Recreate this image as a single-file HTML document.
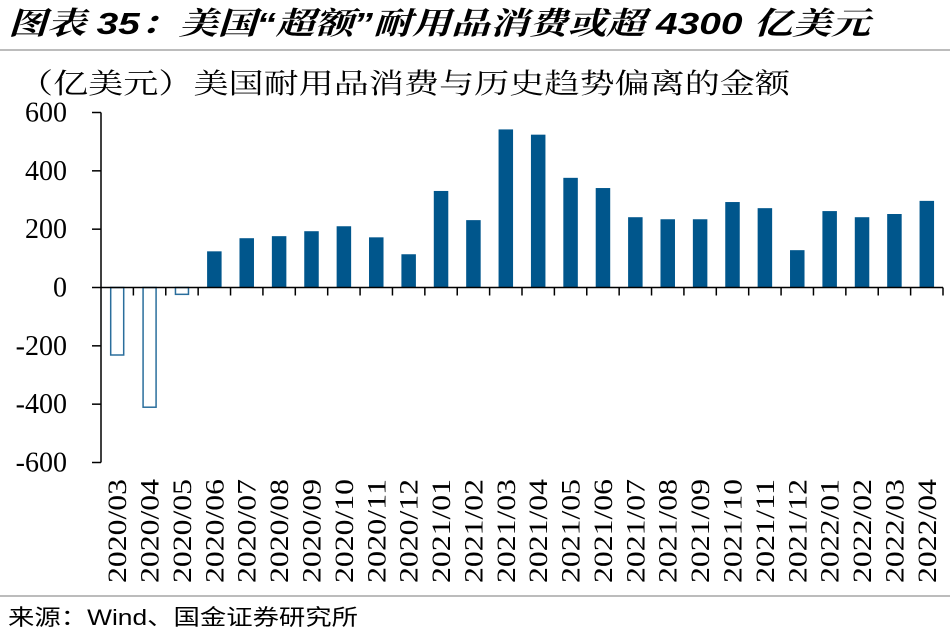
<!DOCTYPE html>
<html><head><meta charset="utf-8"><style>
body{margin:0;background:#fff;width:950px;height:637px;overflow:hidden;font-family:"Liberation Serif","Noto Serif CJK SC",serif}
</style></head><body>
<svg width="950" height="637">
<text x="8" y="34" font-family="Liberation Sans,Noto Serif CJK SC,serif" font-size="31" font-weight="bold" font-style="italic" fill="#000" textLength="862" lengthAdjust="spacingAndGlyphs">图表 35：美国“超额”耐用品消费或超 4300 亿美元</text>
<line x1="0" y1="50" x2="950" y2="50" stroke="#7a7a7a" stroke-width="1"/>
<text x="18" y="93" font-size="28" font-family="Liberation Serif,Noto Serif CJK SC,serif" textLength="772" lengthAdjust="spacingAndGlyphs">（亿美元）美国耐用品消费与历史趋势偏离的金额</text>
<g id="plot"></g>
<line x1="0" y1="596" x2="950" y2="596" stroke="#7a7a7a" stroke-width="1"/>
<text x="8" y="625" font-size="22" font-family="Liberation Sans,Noto Sans CJK SC,sans-serif" textLength="350" lengthAdjust="spacingAndGlyphs">来源：Wind、国金证券研究所</text>
</svg>
<script>
const categories=["2020/03","2020/04","2020/05","2020/06","2020/07","2020/08","2020/09","2020/10","2020/11","2020/12","2021/01","2021/02","2021/03","2021/04","2021/05","2021/06","2021/07","2021/08","2021/09","2021/10","2021/11","2021/12","2022/01","2022/02","2022/03","2022/04"];
const values=[-234,-413,-26,124,169,176,193,210,172,114,331,231,542,524,376,341,241,234,234,293,272,128,262,241,252,297];
const yTicks=[600,400,200,0,-200,-400,-600];
const NS="http://www.w3.org/2000/svg";
const g=document.getElementById('plot');
const X0=101,X1=943,Y600=112.5,Y0=287.5;
const bw=(X1-X0)/categories.length;
function y(v){return Y0-(v/600)*(Y0-Y600);}
function x(i){return X0+bw*i;}
function mk(t,a){const e=document.createElementNS(NS,t);for(const k in a)e.setAttribute(k,a[k]);g.appendChild(e);return e;}
let e;
e=mk('line',{x1:X0,y1:y(600),x2:X0,y2:y(-600),stroke:'#000','stroke-width':1.5});


yTicks.forEach(t=>{
 e=mk('line',{x1:X0-9,y1:y(t),x2:X0,y2:y(t),stroke:'#000','stroke-width':1.5});
 
 
 e=mk('text',{x:X0-34,y:y(t)+9,'text-anchor':'end','font-size':28});
 e.textContent=t;
 
 
});
values.forEach((v,i)=>{
 const cx=x(i)+bw/2,w=14.5;
 const top=Math.min(y(v),Y0),h=Math.abs(y(v)-Y0);
 if(v>=0){e=mk('rect',{x:cx-w/2,y:top,width:w,height:h,fill:'#00568c'});}
 else{e=mk('rect',{x:cx-w/2+0.75,y:top,width:w-1.5,height:h-0.75,fill:'#fff',stroke:'#2a6e9c','stroke-width':1.5});}
 
 
 e=mk('text',{transform:`translate(${cx+9},583) rotate(-90)`,'font-size':26,textLength:104,lengthAdjust:'spacingAndGlyphs'});
 e.textContent=categories[i];
 
 
});
for(let i=1;i<=categories.length;i++){
 e=mk('line',{x1:x(i),y1:Y0,x2:x(i),y2:Y0+8,stroke:'#000','stroke-width':1.5});
 
 
}
e=mk('line',{x1:X0,y1:Y0,x2:X1,y2:Y0,stroke:'#000','stroke-width':1.5});


</script>
</body></html>
